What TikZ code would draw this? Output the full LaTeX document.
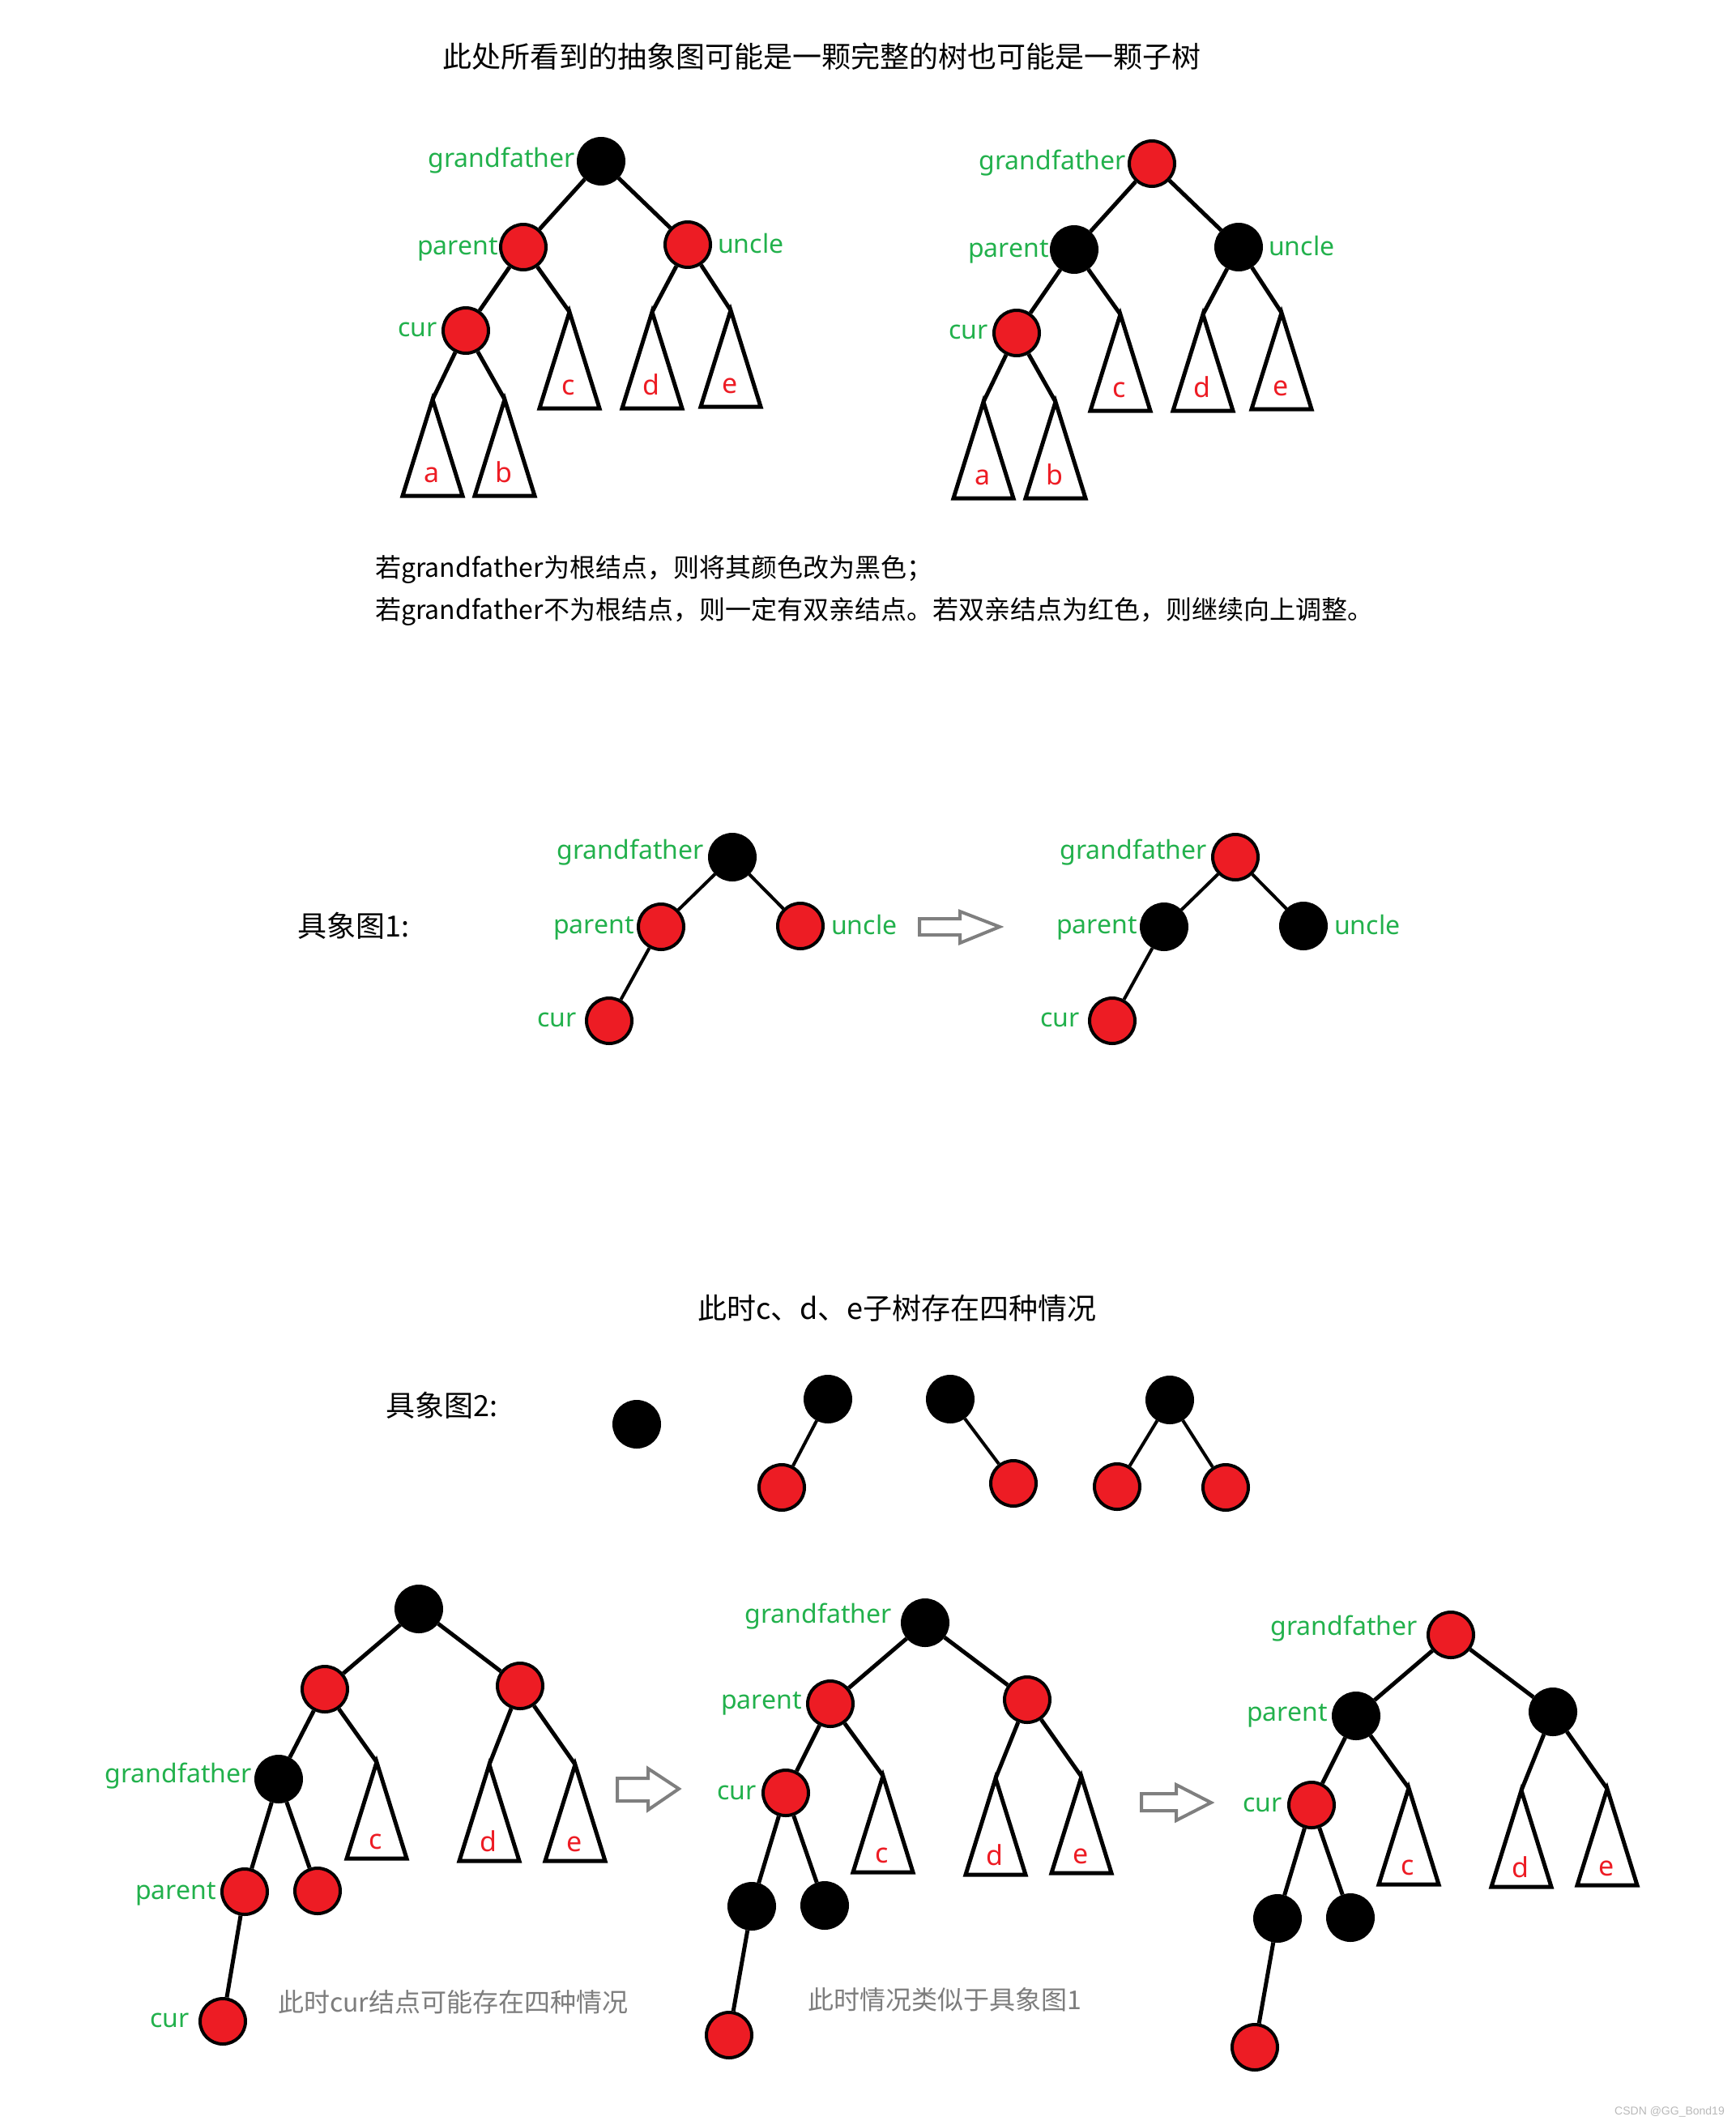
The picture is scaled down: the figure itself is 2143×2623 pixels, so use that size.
\documentclass[tikz,border=0pt]{standalone}
\usepackage{fontspec}
\setmainfont{Noto Sans}
\newfontfamily\cjk{Noto Sans CJK SC}
\newfontfamily\wmfont{Liberation Sans}
\usetikzlibrary{calc}
\definecolor{rbred}{RGB}{237,28,36}
\definecolor{lblgreen}{RGB}{34,177,76}
\definecolor{arrgray}{RGB}{127,127,127}
\definecolor{capgray}{RGB}{125,125,125}
\definecolor{wmgray}{RGB}{185,185,185}
\tikzset{
  rn/.style={circle, draw=black, line width=4pt, fill=rbred, minimum size=56pt, inner sep=0pt},
  bn/.style={rn, fill=black},
  lnk/.style={line width=5pt},
  thinlnk/.style={line width=4pt},
  tri/.style={line width=5pt, line join=miter},
  lbl/.style={text=lblgreen, font=\fontsize{32}{38}\selectfont, inner sep=0pt},
  lett/.style={text=rbred, font=\fontsize{34}{40}\selectfont, inner sep=0pt},
  cjkt/.style={font=\cjk\fontsize{36}{44}\selectfont, inner sep=0pt, anchor=west},
  cjks/.style={font=\cjk\fontsize{32}{40}\selectfont, inner sep=0pt, anchor=west},
  caption/.style={cjks, text=capgray},
  blockarrow/.style={draw=arrgray, fill=white, line width=4pt, line join=miter}
}
% subtree triangle: name, apex x, apex y, letter, baseline offset
\newcommand\subtri[5]{%
  \coordinate (#1) at (#2,#3);
  \draw[tri] (#1) -- ++(-37,119) -- ++(74,0) -- cycle;
  \path (#1) ++(-1,#5) node[lett, anchor=base] (#1l) {#4};
}
% abstract tree (top): prefix, shift, gf style, parent style, uncle style
\newcommand\abstree[5]{%
\begin{scope}[shift={#2}]
  \node[#3] (#1gf) at (742,199) {};
  \node[#4] (#1p) at (646,305) {};
  \node[#5] (#1u) at (849,302) {};
  \node[rn] (#1c) at (575,408) {};
  \subtri{#1tc}{703}{385}{c}{102}
  \subtri{#1td}{805}{385}{d}{102}
  \subtri{#1te}{902}{383}{e}{102}
  \subtri{#1ta}{534}{493}{a}{102}
  \subtri{#1tb}{623}{493}{b}{102}
  \draw[lnk] (#1gf) -- (#1p);
  \draw[lnk] (#1gf) -- (#1u);
  \draw[lnk] (#1p) -- (#1c);
  \draw[lnk] (#1p) -- (#1tc);
  \draw[lnk] (#1u) -- (#1td);
  \draw[lnk] (#1u) -- (#1te);
  \draw[lnk] (#1c) -- (#1ta);
  \draw[lnk] (#1c) -- (#1tb);
  \node[lbl, anchor=base east] (#1gfl) at ([xshift=-2pt, yshift=-7pt]#1gf.west) {grandfather};
  \node[lbl, anchor=base east] (#1pl) at ([xshift=-1pt, yshift=-9pt]#1p.west) {parent};
  \node[lbl, anchor=base west] (#1ul) at ([xshift=7pt, yshift=-10pt]#1u.east) {uncle};
  \node[lbl, anchor=base east] (#1cl) at ([xshift=-5pt, yshift=-7pt]#1c.west) {cur};
\end{scope}}
% concrete tree 1: prefix, x shift, gf style, parent style, uncle style
\newcommand\conctree[5]{%
\begin{scope}[xshift=#2]
  \node[#3] (#1gf) at (904,1058) {};
  \node[#4] (#1p) at (816,1144) {};
  \node[#5] (#1u) at (988,1143) {};
  \node[rn] (#1c) at (752,1260) {};
  \draw[thinlnk] (#1gf) -- (#1p);
  \draw[thinlnk] (#1gf) -- (#1u);
  \draw[thinlnk] (#1p) -- (#1c);
  \node[lbl, anchor=base east] (#1gfl) at ([xshift=-5pt, yshift=-2pt]#1gf.west) {grandfather};
  \node[lbl, anchor=base east] (#1pl) at ([xshift=-3pt, yshift=-8pt]#1p.west) {parent};
  \node[lbl, anchor=base west] (#1ul) at ([xshift=8pt, yshift=-10pt]#1u.east) {uncle};
  \node[lbl, anchor=base east] (#1cl) at ([xshift=-10pt, yshift=-7pt]#1c.west) {cur};
\end{scope}}
% lower trees (middle/right): prefix, shift, gf style, parent style, uncle style
\newcommand\lowtree[5]{%
\begin{scope}[shift={#2}]
  \node[#3] (#1gf) at (1142,2003) {};
  \node[#4] (#1p) at (1025,2103) {};
  \node[#5] (#1u) at (1268,2098) {};
  \node[rn] (#1c) at (970,2213) {};
  \node[bn] (#1bl) at (928,2353) {};
  \node[bn] (#1br) at (1018,2352) {};
  \node[rn] (#1bot) at (900,2512) {};
  \subtri{#1tc}{1090}{2192}{c}{107}
  \subtri{#1td}{1229}{2195}{d}{107}
  \subtri{#1te}{1335}{2193}{e}{107}
  \draw[lnk] (#1gf) -- (#1p);
  \draw[lnk] (#1gf) -- (#1u);
  \draw[lnk] (#1p) -- (#1c);
  \draw[lnk] (#1p) -- (#1tc);
  \draw[lnk] (#1u) -- (#1td);
  \draw[lnk] (#1u) -- (#1te);
  \draw[lnk] (#1c) -- (#1bl);
  \draw[lnk] (#1c) -- (#1br);
  \draw[lnk] (#1bl) -- (#1bot);
  \node[lbl, anchor=base east] (#1gfl) at ([xshift=-11pt, yshift=0pt]#1gf.west) {grandfather};
  \node[lbl, anchor=base east] (#1pl) at ([xshift=-5pt, yshift=-6pt]#1p.west) {parent};
  \node[lbl, anchor=base east] (#1cl) at ([xshift=-6pt, yshift=-8pt]#1c.west) {cur};
\end{scope}}

\begin{document}
\begin{tikzpicture}[x=1pt, y=-1pt]
\fill[white] (0,0) rectangle (2143,2623);
\useasboundingbox (0,0) rectangle (2143,2623);

% title
\node[cjkt, anchor=center] (title) at (1014,70) {此处所看到的抽象图可能是一颗完整的树也可能是一颗子树};

% abstract trees
\abstree{A}{(0,0)}{bn}{rn}{rn}
\abstree{B}{(680,3)}{rn}{bn}{bn}

% explanation
\node[cjks] (ex1) at (463,703) {若grandfather为根结点，则将其颜色改为黑色；};
\node[cjks] (ex2) at (463,755) {若grandfather不为根结点，则一定有双亲结点。若双亲结点为红色，则继续向上调整。};

% concrete case 1
\node[cjkt] (case1) at (367,1143) {具象图1:};
\conctree{C}{0pt}{bn}{rn}{rn}
\conctree{D}{621pt}{rn}{bn}{bn}
\draw[blockarrow] (1135,1134) -- (1185,1134) -- (1185,1125) -- (1234,1144) -- (1185,1164) -- (1185,1154) -- (1135,1154) -- cycle;

% four cases of c, d, e
\node[cjkt] (fourcase) at (861,1615) {此时c、d、e子树存在四种情况};
\node[cjkt] (case2) at (476,1735) {具象图2:};
\node[bn] (k1) at (786,1758) {};
\node[bn] (k2) at (1022,1727) {};
\node[rn] (r2) at (965,1836) {};
\node[bn] (k3) at (1173,1727) {};
\node[rn] (r3) at (1251,1831) {};
\node[bn] (k4) at (1444,1728) {};
\node[rn] (r4a) at (1379,1835) {};
\node[rn] (r4b) at (1513,1836) {};
\draw[thinlnk] (k2) -- (r2);
\draw[thinlnk] (k3) -- (r3);
\draw[thinlnk] (k4) -- (r4a);
\draw[thinlnk] (k4) -- (r4b);

% bottom-left tree
\node[bn] (Lroot) at (517,1986) {};
\node[rn] (Lpl) at (401,2085) {};
\node[rn] (Lpr) at (642,2081) {};
\node[bn] (Lgf) at (344,2196) {};
\node[rn] (Lp) at (302,2335) {};
\node[rn] (Ls) at (392,2334) {};
\node[rn] (Lc) at (275,2495) {};
\subtri{Ltc}{465}{2175}{c}{107}
\subtri{Ltd}{604}{2178}{d}{107}
\subtri{Lte}{710}{2178}{e}{107}
\draw[lnk] (Lroot) -- (Lpl);
\draw[lnk] (Lroot) -- (Lpr);
\draw[lnk] (Lpl) -- (Lgf);
\draw[lnk] (Lpl) -- (Ltc);
\draw[lnk] (Lpr) -- (Ltd);
\draw[lnk] (Lpr) -- (Lte);
\draw[lnk] (Lgf) -- (Lp);
\draw[lnk] (Lgf) -- (Ls);
\draw[lnk] (Lp) -- (Lc);
\node[lbl, anchor=base east] (Lgfl) at ([xshift=-3pt, yshift=-4pt]Lgf.west) {grandfather};
\node[lbl, anchor=base east] (Lpl2) at ([xshift=-5pt, yshift=-9pt]Lp.west) {parent};
\node[lbl, anchor=base east] (Lcl) at ([xshift=-11pt, yshift=-7pt]Lc.west) {cur};
\node[caption] (cap1) at (343,2471) {此时cur结点可能存在四种情况};

\draw[blockarrow] (762,2195) -- (800,2195) -- (800,2183) -- (838,2208) -- (800,2234) -- (800,2223) -- (762,2223) -- cycle;

% middle and right trees
\lowtree{M}{(0,0)}{bn}{rn}{rn}
\node[caption] (cap2) at (997,2468) {此时情况类似于具象图1};
\draw[blockarrow] (1409,2214) -- (1452,2214) -- (1452,2203) -- (1495,2225) -- (1452,2247) -- (1452,2235) -- (1409,2235) -- cycle;
\lowtree{R}{(649,15)}{rn}{bn}{bn}

% watermark
\node[anchor=west, inner sep=0pt, text=wmgray, font=\wmfont\fontsize{14}{16}\selectfont] (wm) at (1993,2607) {CSDN @GG\_Bond19};
\end{tikzpicture}
\end{document}
